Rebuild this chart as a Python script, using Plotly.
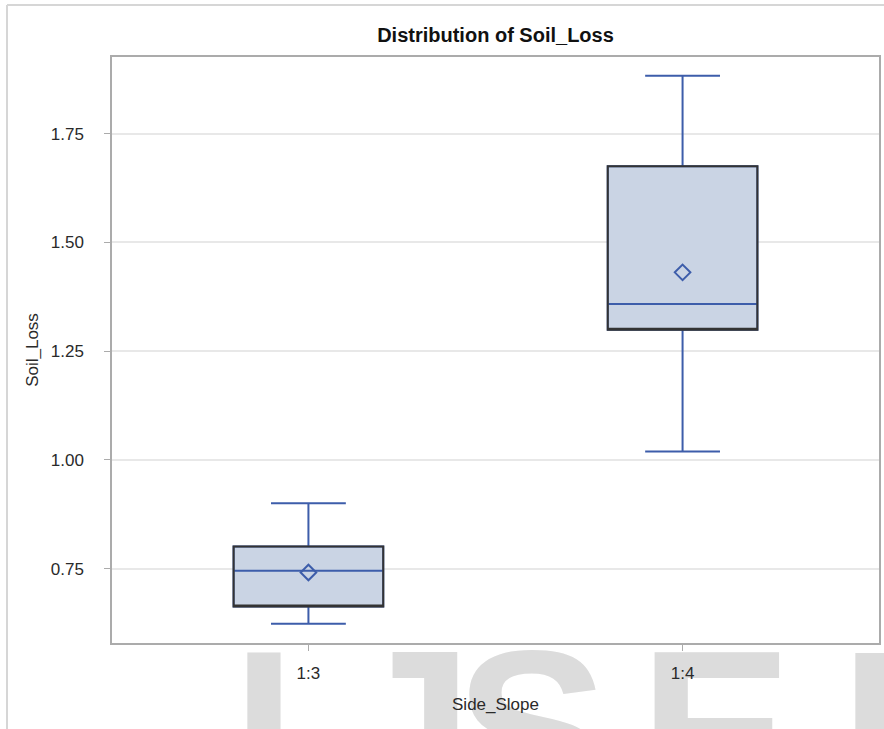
import plotly.graph_objects as go

# ---- data ----
categories = ["1:3", "1:4"]
q1 = [0.663, 1.299]
median = [0.745, 1.358]
q3 = [0.801, 1.675]
lowerfence = [0.623, 1.019]
upperfence = [0.900, 1.883]
means = [0.741, 1.431]
y_tickvals = [0.75, 1.00, 1.25, 1.50, 1.75]
y_ticktext = ["0.75", "1.00", "1.25", "1.50", "1.75"]
watermark_letters = ["I", "J", "S", "E", "R"]

# ---- layout constants (pixels) ----
W, H = 884, 729
PL, PR, PT, PB = 112, 879, 57, 643
WM_X = [264, 409, 532, 716, 840]
WM_POS = ["bottom center", "bottom center", "bottom center", "bottom center", "bottom right"]
WM_Y = 638

FONT = "Liberation Sans, Arial, sans-serif"
BLUE = "#3D5DAA"
FILL = "#CAD4E4"
EDGE = "#333333"
FRAME = "#ABABAB"

fig = go.Figure()

# watermark (first subplot, so it sits beneath the chart's labels)
fig.add_trace(go.Scatter(
    x=WM_X, y=[WM_Y] * len(watermark_letters), text=watermark_letters,
    mode="text", textposition=WM_POS, cliponaxis=False,
    textfont=dict(family=FONT, size=230, color="#DCDCDC", weight="bold"),
    xaxis="x", yaxis="y", hoverinfo="skip", showlegend=False,
))

# boxes: blue whiskers / median with fill
fig.add_trace(go.Box(
    x=categories, q1=q1, median=median, q3=q3,
    lowerfence=lowerfence, upperfence=upperfence,
    fillcolor=FILL, line=dict(color=BLUE, width=2),
    whiskerwidth=0.5, width=0.4, boxpoints=False,
    xaxis="x2", yaxis="y2", showlegend=False,
))
# dark box outline on top
fig.add_trace(go.Box(
    x=categories, q1=q1, median=q1, q3=q3,
    lowerfence=q1, upperfence=q3,
    fillcolor="rgba(0,0,0,0)", line=dict(color=EDGE, width=2),
    whiskerwidth=0, width=0.4, boxpoints=False,
    xaxis="x2", yaxis="y2", showlegend=False, hoverinfo="skip",
))
# means
fig.add_trace(go.Scatter(
    x=categories, y=means, mode="markers",
    marker=dict(symbol="diamond-open", size=12, color=BLUE, line=dict(width=2, color=BLUE)),
    xaxis="x2", yaxis="y2", showlegend=False,
))

fig.update_layout(
    width=W, height=H, autosize=False,
    margin=dict(l=0, r=0, t=0, b=0),
    paper_bgcolor="white", plot_bgcolor="white",
    boxmode="overlay", showlegend=False,
    font=dict(family=FONT, color="#333333"),
    title=dict(text="Distribution of Soil_Loss", x=(PL + PR) / 2 / W, xanchor="center",
               xref="paper", y=1 - 35 / H, yanchor="middle", yref="container",
               font=dict(family=FONT, size=20, color="#111111", weight="bold")),
    xaxis=dict(domain=[0, 1], range=[0, W], visible=False, fixedrange=True),
    yaxis=dict(domain=[0, 1], range=[H, 0], visible=False, fixedrange=True),
    xaxis2=dict(
        domain=[PL / W, PR / W], anchor="y2", type="category",
        range=[-0.525, 1.525], showgrid=False, zeroline=False,
        showline=True, mirror=True, linecolor=FRAME, linewidth=1.5,
        ticks="outside", ticklen=6, tickcolor=FRAME, tickwidth=1,
        ticklabelstandoff=8,
        tickfont=dict(size=17, color="#2A2A2A"),
        title=dict(text="Side_Slope", font=dict(size=17, color="#2A2A2A"), standoff=16),
    ),
    yaxis2=dict(
        domain=[1 - PB / H, 1 - PT / H], anchor="x2",
        range=[0.579, 1.926], tickvals=y_tickvals, ticktext=y_ticktext,
        showgrid=True, gridcolor="#E8E8E8", gridwidth=1.5, zeroline=False,
        showline=True, mirror=True, linecolor=FRAME, linewidth=1.5,
        ticks="outside", ticklen=6, tickcolor=FRAME, tickwidth=1,
        ticklabelstandoff=17,
        tickfont=dict(size=17, color="#2A2A2A"),
        title=dict(text="Soil_Loss", font=dict(size=17, color="#2A2A2A"), standoff=8),
    ),
    shapes=[
        dict(type="line", xref="paper", yref="paper", x0=7 / W, x1=1, y0=1 - 5 / H, y1=1 - 5 / H,
             line=dict(color="#D6D6D6", width=2)),
        dict(type="line", xref="paper", yref="paper", x0=7 / W, x1=7 / W, y0=0, y1=1 - 5 / H,
             line=dict(color="#D6D6D6", width=2)),
    ],
)

fig.write_html("out.html", config={"displayModeBar": False},
               post_script="document.body.style.margin='0px';")
